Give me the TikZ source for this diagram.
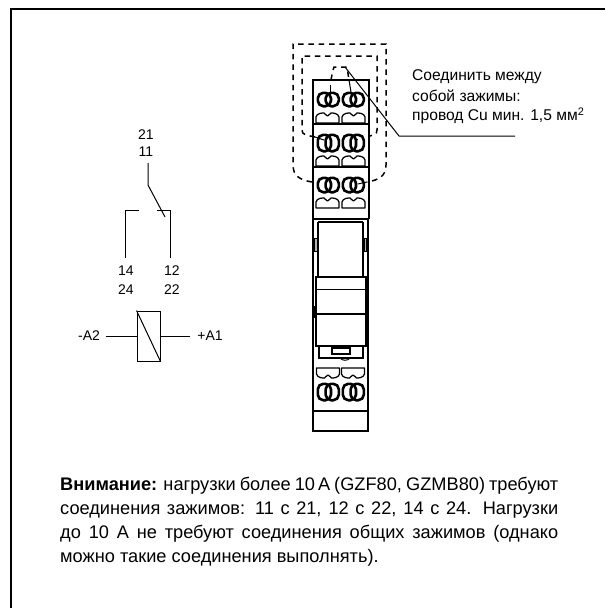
\documentclass[tikz,border=0pt]{standalone}
\usepackage{fontspec}
\setmainfont{Liberation Sans}
\newcommand{\ringterm}[3]{%
  \draw[ringline,rounded corners=5.5pt] (#1+0.8,#2+0.8) rectangle (#1+14,#3-0.8);
  \draw[ringline,rounded corners=5.5pt] (#1+8.6,#2+0.8) rectangle (#1+21.8,#3-0.8);
}
\newcommand{\flatterm}[3]{%
  \draw[flatline] (#1,#3) -- (#1,{#2+(#3-#2)*0.4})
    .. controls (#1+1,#2) and (#1+6,#2) .. (#1+8,#2)
    .. controls (#1+9,#2) and (#1+10,{#2+(#3-#2)*0.3}) .. (#1+11.5,{#2+(#3-#2)*0.3})
    .. controls (#1+13,{#2+(#3-#2)*0.3}) and (#1+14,#2) .. (#1+15,#2)
    .. controls (#1+17,#2) and (#1+22,#2) .. (#1+23,{#2+(#3-#2)*0.4})
    -- (#1+23,#3) -- cycle;
}
\begin{document}
\begin{tikzpicture}[x=1pt,y=-1pt,
  frameline/.style={line width=1.5pt,black},
  thinline/.style={line width=1pt,black},
  devline/.style={line width=1.3pt,black},
  ringline/.style={line width=2.6pt,black},
  flatline/.style={line width=1.25pt,black,line join=round},
  dashline/.style={line width=1.5pt,black,dash pattern=on 5.5pt off 4.8pt},
  lbl/.style={inner sep=0pt,font=\fontsize{14}{16}\selectfont},
  note/.style={inner sep=0pt,anchor=west,font=\fontsize{15.6}{18}\selectfont},
]
\useasboundingbox (0,0) rectangle (605,608);
% frame
\draw[frameline] (605,9) -- (11,9) -- (11,608);

% contact schematic
\node[lbl] (t21) at (146,135) {21};
\node[lbl] (t11) at (146,152) {11};
\node[lbl] (t14) at (126,271) {14};
\node[lbl] (t24) at (126,290) {24};
\node[lbl] (t12) at (172,271) {12};
\node[lbl] (t22) at (172,290) {22};
\draw[thinline] (148,163) -- (148,185) -- (165,217);
\draw[thinline] (125,258) -- (125,210) -- (139,210);
\draw[thinline] (157,210) -- (170,210) -- (170,258);
% coil
\node[draw,thinline,minimum width=23pt,minimum height=50pt,inner sep=0pt] (coil) at (148.5,336) {};
\draw[thinline] (coil.north west) -- (coil.south east);
\node[lbl] (am) at (89,336) {-A2};
\node[lbl] (ap) at (210,336) {+A1};
\coordinate (aml) at (106,336.5);
\coordinate (apl) at (190,336.5);
\draw[thinline] (aml) -- (aml -| coil.west);
\draw[thinline] (apl -| coil.east) -- (apl);

% dashed boundaries
\draw[dashline] (312,182) .. controls (300,180) and (293,176) .. (293,165) -- (293,44) -- (386,44) -- (386,165) .. controls (386,176) and (379,180) .. (367,182);
\draw[dashline] (315,137) .. controls (306,135) and (302,135) .. (302,130) -- (302,56) -- (377,56) -- (377,130) .. controls (377,135) and (373,135) .. (370,136);
\draw[dashline] (331,80) .. controls (332,74) and (333,70) .. (334,67) -- (347,67) -- (349,80);
\draw[thinline] (330,85) -- (330,92);
\draw[thinline] (349,80) -- (351,92);
\draw[thinline] (315,137) -- (324,140);
\draw[thinline] (356,139) -- (358,139);
\draw[thinline] (358,184) -- (367,182);

% device body
\draw[devline] (313,219) -- (313,80) -- (369,80) -- (369,219);
\draw[devline] (313,124) -- (369,124);
\draw[devline] (313,167) -- (369,167);
\draw[devline] (313,219) -- (369,219);
\draw[devline] (313,219) -- (313,431) -- (368,431) -- (368,219);
\draw[devline] (318,222) -- (363,222);
\draw[devline] (318,222) -- (318,277);
\draw[devline] (363,222) -- (363,277);
\draw[line width=0.7pt,fill=gray!60] (314.8,238) rectangle (317.2,251);
\draw[line width=0.7pt,fill=gray!60] (364,238) rectangle (366.4,251);
\draw[devline] (316,277) rectangle (366,346);
\draw[line width=1.6pt] (316,289.5) -- (366,289.5);
\draw[devline] (316,314) -- (366,314);
\draw[line width=2pt] (314,306) -- (314,318);
\draw[line width=2pt] (367,306) -- (367,318);
\draw[devline] (319,346) -- (319,358) -- (363,358) -- (363,346);
\draw[devline] (332,348) rectangle (350,354);
\draw[thinline] (340,358) .. controls (342,361) and (348,361) .. (350,358);
\draw[devline] (313,411) -- (368,411);

% terminals
\ringterm{317}{92}{107}\ringterm{342}{92}{107}
\ringterm{317}{134}{152}\ringterm{342}{134}{152}
\ringterm{317}{177}{193}\ringterm{342}{177}{193}
\ringterm{317}{383}{401}\ringterm{342}{383}{401}
\flatterm{316}{113}{123}\flatterm{342}{113}{123}
\flatterm{316}{156}{166}\flatterm{342}{156}{166}
\flatterm{316}{198}{208}\flatterm{342}{198}{208}
\flatterm{316.5}{378}{368}\flatterm{341.5}{378}{368}

% leader and note
\coordinate (ls) at (345,67);
\coordinate (lk) at (399,136);
\coordinate (le) at (515,136);
\draw[thinline] (ls) -- (lk) -- (le);
\node[note] (n1) at (412,77) {Соединить между};
\node[note] (n2) at (412,96) {собой зажимы:};
\node[note] (n3) at (412,115.5) {провод Cu мин. 1,5 мм\textsuperscript{2}};

% warning
\node[inner sep=0pt,anchor=north west,font=\fontsize{18.2}{24}\selectfont,align=left] (warn) at (60,476.5) {%
\makebox[498pt][s]{\textbf{Внимание:} нагрузки более 10\,A (GZF80, GZMB80) требуют}\\
\makebox[498pt][s]{соединения зажимов: 11 с 21, 12 с 22, 14 с 24. Нагрузки}\\
\makebox[498pt][s]{до 10 А не требуют соединения общих зажимов (однако}\\
можно такие соединения выполнять).};
\end{tikzpicture}
\end{document}
